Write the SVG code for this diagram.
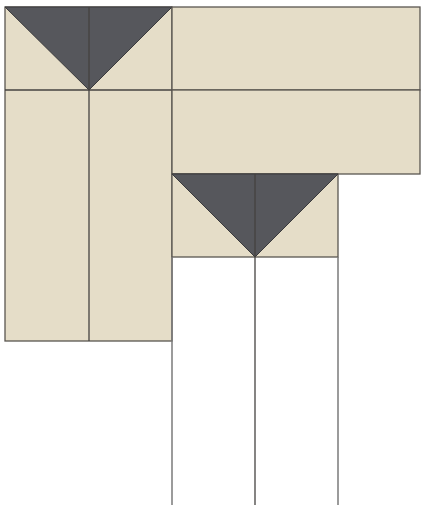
<svg xmlns="http://www.w3.org/2000/svg" width="422" height="505" viewBox="0 0 422 505">
<style>
.f{fill:#e5ddc8;stroke:#5a5650;stroke-width:1.3}
.t{fill:#56575c;stroke:#3a3a3c;stroke-width:1}
.l{stroke:#444240;stroke-width:1.3;fill:none}
.g{stroke:#7a7a7a;stroke-width:1.5;fill:none}
</style>
<rect width="422" height="505" fill="#ffffff"/>
<g id="block-left">
<rect class="f" x="5" y="7" width="167" height="334"/>
<polygon class="t" points="5,7 172,7 89,90"/>
<line class="l" x1="89" y1="7" x2="89" y2="341"/>
<line class="l" x1="5" y1="90" x2="172" y2="90"/>
</g>
<g id="strip-top">
<rect class="f" x="172" y="7" width="248" height="83"/>
</g>
<g id="strip-middle">
<rect class="f" x="172" y="90" width="248" height="84"/>
</g>
<g id="block-lower">
<rect class="f" x="172" y="174" width="166" height="83"/>
<polygon class="t" points="172,174 338,174 255,257"/>
<line class="l" x1="255" y1="174" x2="255" y2="257"/>
</g>
<g id="connectors">
<line class="g" x1="172" y1="257" x2="172" y2="505"/>
<line class="l" x1="255" y1="257" x2="255" y2="505"/>
<line class="g" x1="338" y1="257" x2="338" y2="505"/>
</g>
</svg>
